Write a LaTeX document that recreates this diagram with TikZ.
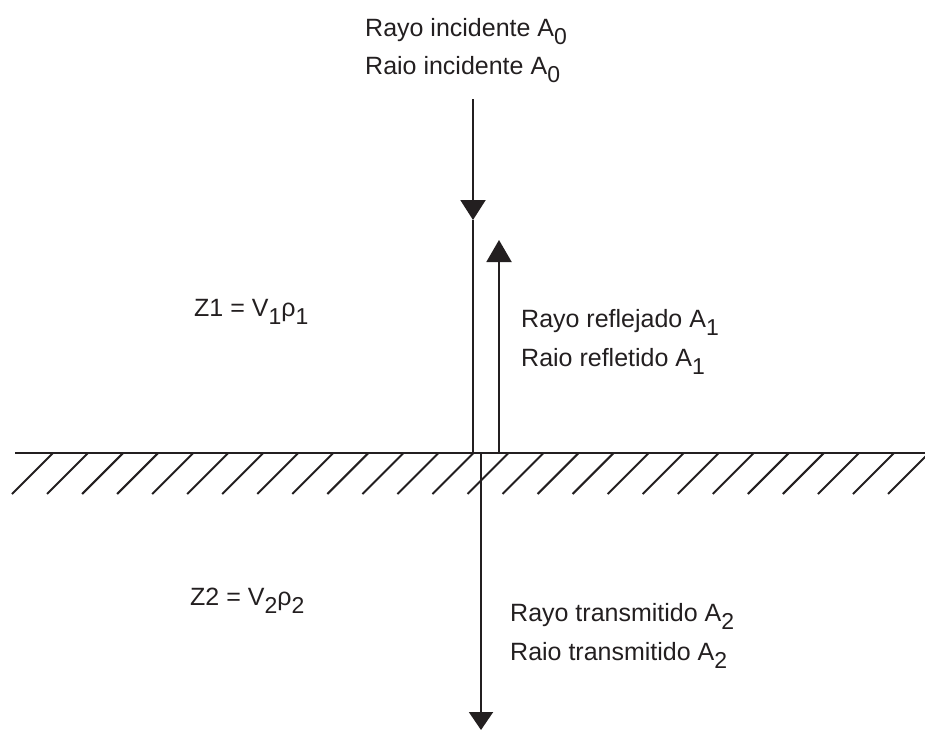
\documentclass[tikz,border=0pt]{standalone}
\usepackage{fontspec}
\setmainfont{Liberation Sans}
\usetikzlibrary{arrows.meta}
\definecolor{ink}{HTML}{231F20}
\newcommand\lowsub[1]{\raisebox{-8pt}{\fontsize{23}{23}\selectfont #1}}
\tikzset{
  lbl/.style={anchor=base west,inner sep=0pt,text=ink,font=\fontsize{25}{30}\selectfont},
  ray/.style={draw=ink,line width=2pt},
  ground/.style={draw=ink,line width=2.2pt},
  hatch/.style={draw=ink,line width=2pt}
}
\begin{document}
\begin{tikzpicture}[x=1pt,y=-1pt]
\useasboundingbox (0,0) rectangle (925,731);
% interface
\coordinate (gL) at (15,453);
\coordinate (gR) at (925,453);
\draw[ground] (gL) -- (gR);
\begin{scope}
\clip (0,440) rectangle (925,500);
\foreach \k in {0,...,25}{
  \coordinate (h\k t) at ({53+35.04*\k},453);
  \coordinate (h\k b) at ({12+35.04*\k},494);
  \draw[hatch] (h\k t) -- (h\k b);
}
\end{scope}
% incident ray
\coordinate (incTop) at (473,99);
\coordinate (incTip) at (473,220);
\coordinate (incBot) at (473,453);
\draw[ray,-{Triangle[width=25pt,length=20pt]}] (incTop) -- (incTip);
\draw[ray] (incTip) -- (incBot);
% reflected ray
\coordinate (refBot) at (499,453);
\coordinate (refTip) at (499,240);
\draw[ray,-{Triangle[width=25pt,length=22pt]}] (refBot) -- (refTip);
% transmitted ray
\coordinate (trTop) at (481,453);
\coordinate (trTip) at (481,730);
\draw[ray,-{Triangle[width=24pt,length=18pt]}] (trTop) -- (trTip);
% labels
\node[lbl] (inc1) at (365,36) {Rayo incidente A\lowsub{0}};
\node[lbl] (inc2) at (365,74) {Raio incidente A\lowsub{0}};
\node[lbl] (ref1) at (521,327) {Rayo reflejado A\lowsub{1}};
\node[lbl] (ref2) at (521,366) {Raio refletido A\lowsub{1}};
\node[lbl] (tr1) at (510,621) {Rayo transmitido A\lowsub{2}};
\node[lbl] (tr2) at (510,660) {Raio transmitido A\lowsub{2}};
\node[lbl] (z1) at (194,316) {Z1 = V\lowsub{1}ρ\lowsub{1}};
\node[lbl] (z2) at (190,605) {Z2 = V\lowsub{2}ρ\lowsub{2}};
\end{tikzpicture}
\end{document}
